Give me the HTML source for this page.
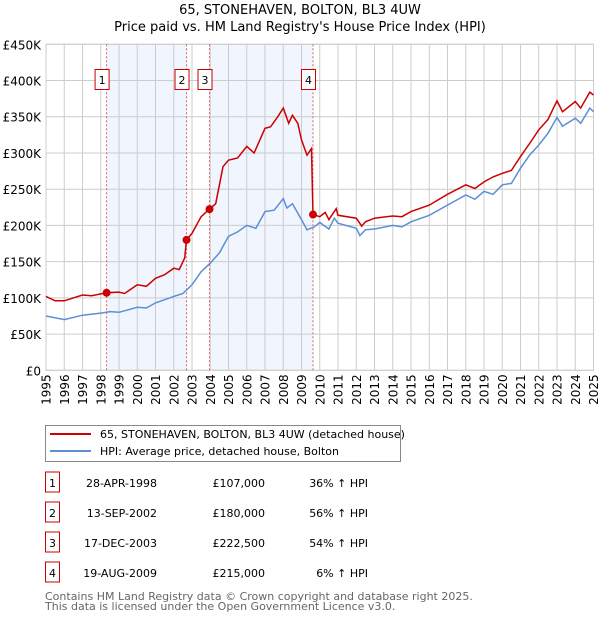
<!DOCTYPE html>
<html><head><meta charset="utf-8"><style>
body{margin:0;background:#fff;font-family:"DejaVu Sans","Liberation Sans",sans-serif;}
svg text{font-family:"DejaVu Sans","Liberation Sans",sans-serif;}
</style></head><body>
<svg id="c" width="600" height="620" xmlns="http://www.w3.org/2000/svg">
<text x="300" y="14" text-anchor="middle" font-size="13">65, STONEHAVEN, BOLTON, BL3 4UW</text>
<text x="300" y="31" text-anchor="middle" font-size="13">Price paid vs. HM Land Registry's House Price Index (HPI)</text>
<g id="plot"></g>
<g>
<rect x="45.5" y="425.5" width="355" height="36" fill="#fff" stroke="#888"/>
<line x1="50" y1="434" x2="91" y2="434" stroke="#cc0000" stroke-width="2"/>
<text x="100" y="438" font-size="11">65, STONEHAVEN, BOLTON, BL3 4UW (detached house)</text>
<line x1="50" y1="451" x2="91" y2="451" stroke="#5b8fd6" stroke-width="2"/>
<text x="100" y="455" font-size="11">HPI: Average price, detached house, Bolton</text>
</g>
<g id="table" font-size="11"></g>
<text x="45" y="600" font-size="11" fill="#666">Contains HM Land Registry data © Crown copyright and database right 2025.</text>
<text x="45" y="610" font-size="11" fill="#666">This data is licensed under the Open Government Licence v3.0.</text>
</svg>
<script>
const hpiYears=[1995,1996,1997,1998,1998.5,1999,2000,2000.5,2001,2002,2002.5,2003,2003.5,2004,2004.5,2005,2005.5,2006,2006.5,2007,2007.5,2008,2008.2,2008.5,2009,2009.3,2009.7,2010,2010.5,2010.8,2011,2012,2012.2,2012.5,2013,2014,2014.5,2015,2016,2017,2018,2018.5,2019,2019.5,2020,2020.5,2021,2021.5,2022,2022.5,2023,2023.3,2024,2024.3,2024.8,2025];
const hpiValues=[75,70,76,79,81,80,87,86,93,102,106,118,136,148,162,185,191,200,196,219,221,237,224,230,208,194,198,204,195,210,203,196,186,194,195,200,198,205,214,228,242,236,247,243,256,258,279,297,311,327,349,337,348,341,362,357];
const priceYears=[1995,1995.5,1996,1997,1997.5,1998.32,1999,1999.3,2000,2000.5,2001,2001.5,2002,2002.3,2002.6,2002.7,2003,2003.5,2003.96,2004.3,2004.7,2005,2005.5,2006,2006.4,2007,2007.3,2007.7,2008,2008.3,2008.5,2008.8,2009,2009.3,2009.55,2009.63,2010,2010.3,2010.5,2010.9,2011,2012,2012.3,2012.5,2013,2014,2014.5,2015,2016,2017,2018,2018.5,2019,2019.5,2020,2020.5,2021,2021.5,2022,2022.5,2023,2023.3,2024,2024.3,2024.8,2025];
const priceValues=[102,96,96,104,103,107,108,106,118,116,127,132,141,139,155,180,189,212,222.5,230,281,290,293,309,300,334,336,350,362,341,352,341,318,297,306,215,212,218,208,223,214,210,199,205,210,213,212,219,228,243,256,251,260,267,272,276,295,313,332,346,372,357,371,362,384,380];
const saleLabels=["1","2","3","4"];
const saleYears=[1998.32,2002.70,2003.96,2009.63];
const saleValues=[107000,180000,222500,215000];
const saleDates=["28-APR-1998","13-SEP-2002","17-DEC-2003","19-AUG-2009"];
const salePrices=["£107,000","£180,000","£222,500","£215,000"];
const saleHpi=["36% ↑ HPI","56% ↑ HPI","54% ↑ HPI","6% ↑ HPI"];
const yTicks=[0,50,100,150,200,250,300,350,400,450];
const yTickLabels=["£0","£50K","£100K","£150K","£200K","£250K","£300K","£350K","£400K","£450K"];
const xTicks=[1995,1996,1997,1998,1999,2000,2001,2002,2003,2004,2005,2006,2007,2008,2009,2010,2011,2012,2013,2014,2015,2016,2017,2018,2019,2020,2021,2022,2023,2024,2025];

const L=46,R=593.5,T=44.3,B=370.3;
const xs=y=>L+(y-1995)/30*(R-L);
const ys=v=>B-v/450*(B-T);
const NS="http://www.w3.org/2000/svg";
const plot=document.getElementById('plot');
function mk(tag,attrs,parent){const e=document.createElementNS(NS,tag);for(const k in attrs)e.setAttribute(k,attrs[k]);(parent||plot).appendChild(e);return e;}
for(let i=0;i<4;i+=2){
 const r=mk('rect',{x:xs(saleYears[i]),y:T,width:xs(saleYears[i+1])-xs(saleYears[i]),height:B-T,fill:'#eef3fc',opacity:0.8});
 
 
}
yTicks.forEach((v,i)=>{
 const l=mk('line',{x1:L,x2:R,y1:ys(v),y2:ys(v),stroke:'#ccc'});
 
 
 const t=mk('text',{x:L-5,y:ys(v)+5,'text-anchor':'end','font-size':12});
 t.textContent=yTickLabels[i];
 
 
});
xTicks.forEach(y=>{
 const l=mk('line',{x1:xs(y),x2:xs(y),y1:T,y2:B,stroke:'#ccc'});
 
 
 const t=mk('text',{x:0,y:0,'text-anchor':'end','font-size':12,transform:`translate(${xs(y)+4.5},${B+4}) rotate(-90)`});
 t.textContent=y;
 
 
});
mk('rect',{x:L,y:T,width:R-L,height:B-T,fill:'none',stroke:'#ccc'});
saleYears.forEach((y,i)=>{
 const l=mk('line',{x1:xs(y),x2:xs(y),y1:T,y2:B,stroke:'#e06060','stroke-dasharray':'2,2'});
 
 
 const g=mk('g',{});
 
 
 mk('rect',{x:xs(y)-11.5,y:69.5,width:14,height:20,fill:'#fff',stroke:'#cc0000'},g);
 const t=mk('text',{x:xs(y)-4.5,y:84,'text-anchor':'middle','font-size':11},g);
 t.textContent=saleLabels[i];
});
function path(xa,va,color,name){
 const d=xa.map((y,i)=>(i?'L':'M')+xs(y).toFixed(1)+','+ys(va[i]).toFixed(1)).join('');
 const p=mk('path',{d:d,fill:'none',stroke:color,'stroke-width':1.5});
 
 
}
path(hpiYears,hpiValues,'#5b8fd6','hpi-line');
path(priceYears,priceValues,'#cc0000','price-line');
saleYears.forEach((y,i)=>{
 const c=mk('circle',{cx:xs(y),cy:ys(saleValues[i]/1000),r:4,fill:'#cc0000'});
 
 
});
const tb=document.getElementById('table');
saleLabels.forEach((s,i)=>{
 const y=483+i*30;
 const g=mk('g',{},tb);
 
 
 mk('rect',{x:45.5,y:y-11,width:14,height:20,fill:'#fff',stroke:'#cc0000'},g);
 let t=mk('text',{x:52.5,y:y+4,'text-anchor':'middle'},g);t.textContent=s;
 t=mk('text',{x:157,y:y+4,'text-anchor':'end'},g);t.textContent=saleDates[i];
 t=mk('text',{x:265,y:y+4,'text-anchor':'end'},g);t.textContent=salePrices[i];
 t=mk('text',{x:368,y:y+4,'text-anchor':'end'},g);t.textContent=saleHpi[i];
});
</script>
</body></html>
